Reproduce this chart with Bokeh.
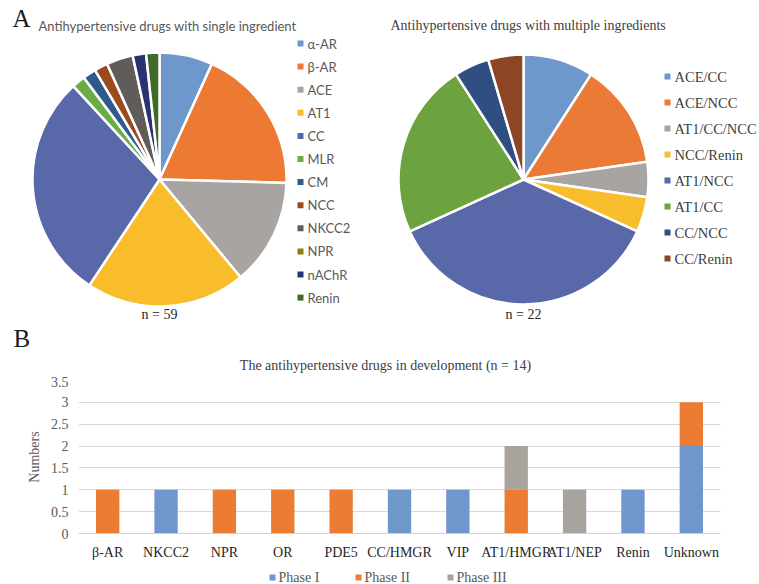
import math
from bokeh.plotting import figure
from bokeh.models import Range1d, ColumnDataSource, FixedTicker
from bokeh.embed import file_html
from bokeh.resources import INLINE
from bokeh.core.properties import value

# ---------------- data ----------------
single_labels = ["α-AR", "β-AR", "ACE", "AT1", "CC", "MLR", "CM", "NCC", "NKCC2", "NPR", "nAChR", "Renin"]
single_counts = [4, 11, 8, 12, 17, 1, 1, 1, 2, 0, 1, 1]
single_colors = ["#6e97cc", "#ec7a32", "#a8a4a1", "#f9bd2b", "#5868a8", "#6aad45",
                 "#2e5a8e", "#9c4a1c", "#605c5a", "#977a12", "#2a3272", "#3f6a2a"]

multi_labels = ["ACE/CC", "ACE/NCC", "AT1/CC/NCC", "NCC/Renin", "AT1/NCC", "AT1/CC", "CC/NCC", "CC/Renin"]
multi_counts = [2, 3, 1, 1, 8, 5, 1, 1]
multi_colors = ["#6e97cc", "#ea7a35", "#a8a4a1", "#f8bd2d", "#5868a8", "#6ca33f", "#2f4f80", "#8c4626"]

dev_categories = ["β-AR", "NKCC2", "NPR", "OR", "PDE5", "CC/HMGR", "VIP", "AT1/HMGR", "AT1/NEP", "Renin", "Unknown"]
phase1 = [0, 1, 0, 0, 0, 1, 1, 0, 0, 1, 2]
phase2 = [1, 0, 1, 1, 1, 0, 0, 1, 0, 0, 1]
phase3 = [0, 0, 0, 0, 0, 0, 0, 1, 1, 0, 0]
phase_names = ["Phase I", "Phase II", "Phase III"]
phase_colors = ["#7097cb", "#ec7b34", "#a9a39e"]
y_ticks = [0, 0.5, 1, 1.5, 2, 2.5, 3, 3.5]
y_tick_labels = ["0", "0.5", "1", "1.5", "2", "2.5", "3", "3.5"]

SERIF = "Liberation Serif"
SANS = "Lato"

W, H_TOP, H_BOT, H_LEG = 759, 376, 186, 22


def blank(h):
    f = figure(width=W, height=h, x_range=Range1d(0, W), y_range=Range1d(0, h),
               output_backend="svg", toolbar_location=None, min_border=0)
    f.axis.visible = False
    f.grid.visible = False
    f.outline_line_color = None
    return f


# ---------------- top: pies + panel labels ----------------
top = blank(H_TOP)


def Y(y):
    return H_TOP - y


def pie(p, counts, colors, cx, cy, r):
    total = sum(counts)
    starts, ends, cols = [], [], []
    cum = 0
    for c, col in zip(counts, colors):
        if c > 0:
            starts.append(math.pi / 2 - 2 * math.pi * cum / total)
            ends.append(math.pi / 2 - 2 * math.pi * (cum + c) / total)
            cols.append(col)
        cum += c
    src = ColumnDataSource(dict(s=starts, e=ends, c=cols))
    p.wedge(x=cx, y=cy, radius=r, start_angle="s", end_angle="e", direction="clock",
            fill_color="c", line_color="white", line_width=2.5, source=src)


def legend(p, labels, colors, x, y0, step, font, size, color):
    ys = [Y(y0 + i * step) for i in range(len(labels))]
    p.scatter(x=[x] * len(labels), y=ys, marker="square", size=6, color=colors, line_color=None)
    p.text(x=[x + 7] * len(labels), y=ys, text=labels, text_font=value(font),
           text_font_size=size, text_color=color, text_baseline="middle")


pie(top, single_counts, single_colors, 159, Y(179), 127)
pie(top, multi_counts, multi_colors, 523, Y(179), 125)

legend(top, single_labels, single_colors, 300, 43, 23.1, SANS, "13px", "#595959")
legend(top, multi_labels, multi_colors, 667, 76, 26, SERIF, "14.5px", "#404040")

top.text(x=[12, 13], y=[Y(18), Y(338)], text=["A", "B"], text_font=value(SERIF),
         text_font_size="25px", text_color="#1a1a1a", text_baseline="middle")
top.text(x=[38], y=[Y(25)], text=["Antihypertensive drugs with single ingredient"],
         text_font=value(SANS), text_font_size="13px", text_color="#595959", text_baseline="middle")
top.text(x=[390], y=[Y(25)], text=["Antihypertensive drugs with multiple ingredients"],
         text_font=value(SERIF), text_font_size="14px", text_color="#404040", text_baseline="middle")
top.text(x=[159, 523], y=[Y(314), Y(314)], text=["n = 59", "n = 22"],
         text_font=value(SERIF), text_font_size="14px", text_color="#262626",
         text_align="center", text_baseline="middle")
top.text(x=[385], y=[Y(365)], text=["The antihypertensive drugs in development (n = 14)"],
         text_font=value(SERIF), text_font_size="14px", text_color="#404040",
         text_align="center", text_baseline="middle")

# ---------------- bottom: bars ----------------
src = ColumnDataSource(dict(cat=dev_categories, p1=phase1, p2=phase2, p3=phase3))
bot = figure(width=W, height=H_BOT, x_range=dev_categories, y_range=Range1d(0, 3.5),
             output_backend="svg", toolbar_location=None,
             min_border_left=78, min_border_right=39, min_border_top=4, min_border_bottom=27)
bot.vbar_stack(["p1", "p2", "p3"], x="cat", width=0.4, color=phase_colors,
               line_color=None, source=src)
bot.x_range.range_padding = 0
bot.outline_line_color = None
bot.xgrid.grid_line_color = None
bot.ygrid.grid_line_color = "#d9d9d9"
bot.ygrid.ticker = FixedTicker(ticks=y_ticks)
bot.yaxis.ticker = FixedTicker(ticks=y_ticks)
bot.yaxis.major_label_overrides = {t: l for t, l in zip(y_ticks, y_tick_labels)}
bot.yaxis.axis_line_color = None
bot.yaxis.major_tick_line_color = None
bot.yaxis.minor_tick_line_color = None
bot.yaxis.major_label_text_font = SERIF
bot.yaxis.major_label_text_font_size = "14px"
bot.yaxis.major_label_text_color = "#595959"
bot.yaxis.major_label_standoff = 4
bot.yaxis.axis_label = "Numbers"
bot.yaxis.axis_label_text_font = SERIF
bot.yaxis.axis_label_text_font_size = "14px"
bot.yaxis.axis_label_text_font_style = "normal"
bot.yaxis.axis_label_text_color = "#595959"
bot.yaxis.axis_label_standoff = 6
bot.xaxis.axis_line_color = "#d0d0d0"
bot.xaxis.major_tick_line_color = None
bot.xaxis.major_label_text_font = SERIF
bot.xaxis.major_label_text_font_size = "14px"
bot.xaxis.major_label_text_color = "#262626"
bot.xaxis.major_label_standoff = 5

# ---------------- phase legend ----------------
leg = blank(H_LEG)
lx = [272, 358, 450]
leg.scatter(x=lx, y=[H_LEG - 15] * 3, marker="square", size=6, color=phase_colors, line_color=None)
leg.text(x=[v + 6 for v in lx], y=[H_LEG - 15] * 3, text=phase_names, text_font=value(SERIF),
         text_font_size="14px", text_color="#595959", text_baseline="middle")

open("out.html", "w").write(file_html([top, bot, leg], INLINE))
